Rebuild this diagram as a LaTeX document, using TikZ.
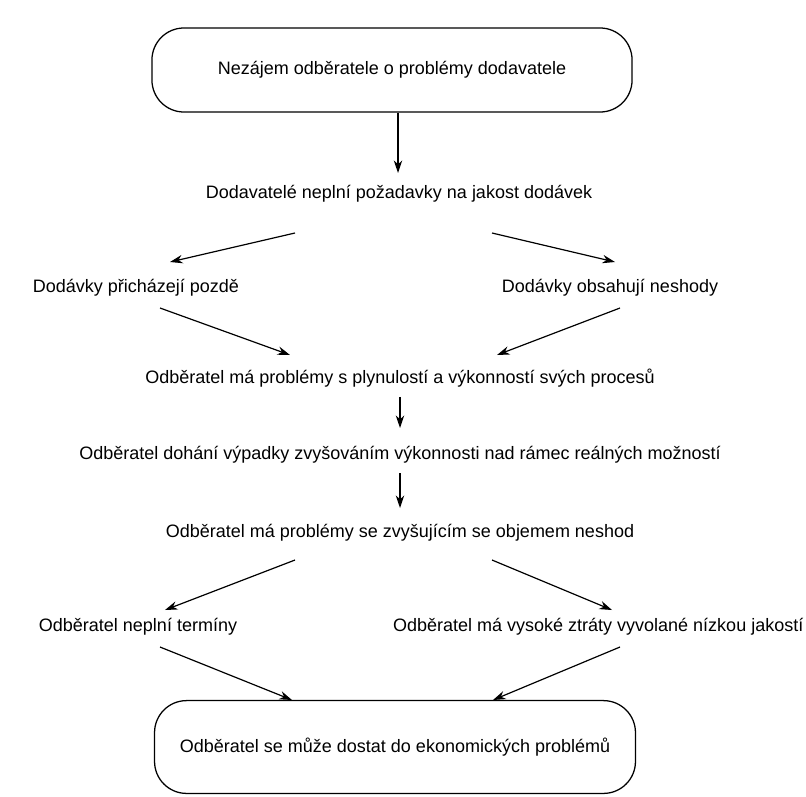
\documentclass[tikz,border=0pt]{standalone}
\usepackage{fontspec}
\setmainfont{Liberation Sans}
\usetikzlibrary{arrows.meta}

\tikzset{
    arr/.style={-{Stealth[length=9pt,width=6pt]}, line width=0.85pt},
    txt/.style={inner sep=1pt, font=\fontsize{12.8}{15}\selectfont},
    endbox/.style={txt, draw, line width=0.9pt, rounded corners=0.8cm}
}

\begin{document}
\begin{tikzpicture}[x=0.025cm, y=-0.025cm]
    \useasboundingbox (0,0) rectangle (806,796);
    % boxes at the top and the bottom
    \node[endbox, minimum width=12cm, minimum height=2.1cm] (nezajem) at (392,70) {Nezájem odběratele o problémy dodavatele};
    \node[endbox, minimum width=12.02cm, minimum height=2.32cm] (ekon) at (395,747) {Odběratel se může dostat do ekonomických problémů};
    % the causes in between
    \node[txt] (neplni) at (399,194) {Dodavatelé neplní požadavky na jakost dodávek};
    \node[txt] (pozde) at (136,288) {Dodávky přicházejí pozdě};
    \node[txt] (neshody) at (610,288) {Dodávky obsahují neshody};
    \node[txt] (plynulost) at (400,378) {Odběratel má problémy s plynulostí a výkonností svých procesů};
    \node[txt] (dohani) at (400,455) {Odběratel dohání výpadky zvyšováním výkonnosti nad rámec reálných možností};
    \node[txt] (objem) at (400,533) {Odběratel má problémy se zvyšujícím se objemem neshod};
    \node[txt] (terminy) at (138,627) {Odběratel neplní termíny};
    \node[txt, anchor=east] (ztraty) at (805,627) {Odběratel má vysoké ztráty vyvolané nízkou jakostí};
    % arrow ends
    \coordinate (a1) at (295,233);
    \coordinate (a2) at (170,262);
    \coordinate (a3) at (492,233);
    \coordinate (a4) at (615,262);
    \coordinate (b1) at (160,308);
    \coordinate (b2) at (290,355);
    \coordinate (b3) at (620,308);
    \coordinate (b4) at (497,355);
    \coordinate (c1) at (295,560);
    \coordinate (c2) at (165,610);
    \coordinate (c3) at (492,560);
    \coordinate (c4) at (612,610);
    \coordinate (d1) at (160,647);
    \coordinate (d2) at (292,700);
    \coordinate (d3) at (620,647);
    \coordinate (d4) at (493,700);
    % arrows
    \draw[arr] (nezajem.south -| 398,0) -- (398,173);
    \draw[arr] (a1) -- (a2);
    \draw[arr] (a3) -- (a4);
    \draw[arr] (b1) -- (b2);
    \draw[arr] (b3) -- (b4);
    \draw[arr] (plynulost.south -| 400,0) ++(0,8) -- (400,428);
    \draw[arr] (dohani.south -| 400,0) ++(0,8) -- (400,508);
    \draw[arr] (c1) -- (c2);
    \draw[arr] (c3) -- (c4);
    \draw[arr] (d1) -- (d2);
    \draw[arr] (d3) -- (d4);
\end{tikzpicture}
\end{document}
